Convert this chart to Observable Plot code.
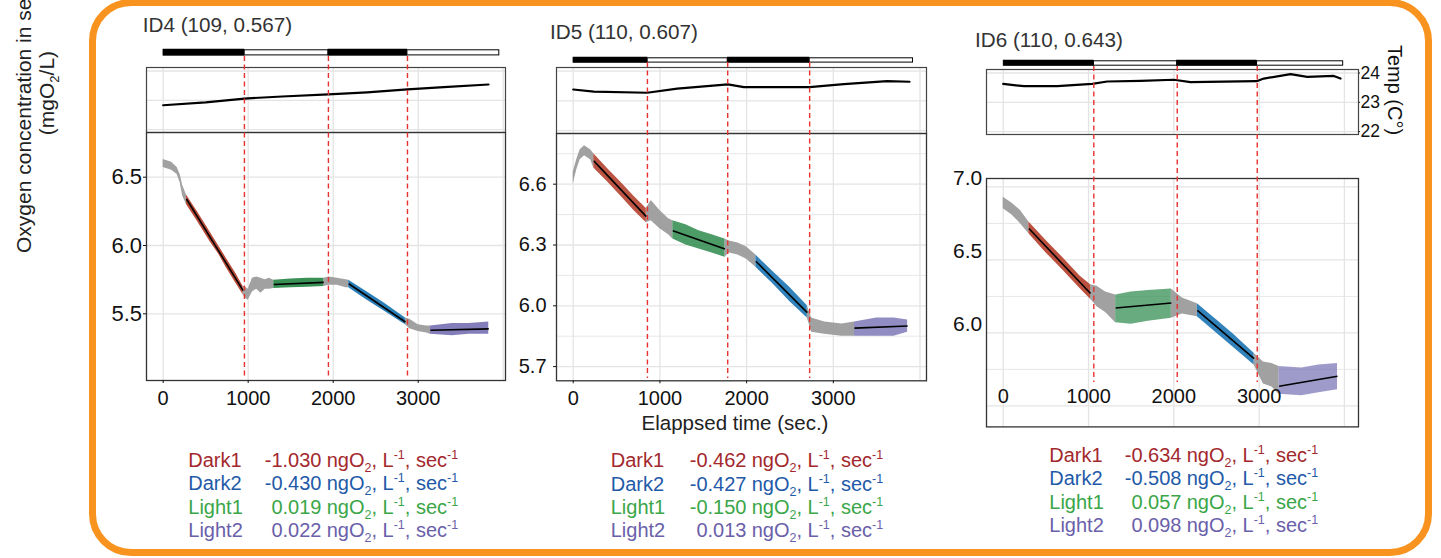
<!DOCTYPE html>
<html><head><meta charset="utf-8">
<script src="https://cdn.jsdelivr.net/npm/d3@7"></script>
<script src="https://cdn.jsdelivr.net/npm/@observablehq/plot@0.6"></script>
<style>
html,body{margin:0;padding:0;background:#fff;}
#root{position:relative;width:1441px;height:558px;overflow:hidden;background:#fff;font-family:"Liberation Sans",Arial,sans-serif;}
#root svg{overflow:visible;}
</style></head><body><div id="root"></div>
<script>
// ---------------- data ----------------
const panelTitles = ["ID4 (109, 0.567)", "ID5 (110, 0.607)", "ID6 (110, 0.643)"];
const segNames = ["Dark1", "Light1", "Dark2", "Light2"];
const legendNames = ["Dark1", "Dark2", "Light1", "Light2"];
const phaseNames = ["dark", "light", "dark", "light"];
const xGridTicks = [0, 1000, 2000, 3000, 4000];
const xLabelTicks = [0, 1000, 2000, 3000];
const tempTicks = [22, 23, 24];

// ID4
const id4Time = [0, 100, 165, 200, 230, 274, 400, 550, 650, 750, 850, 941, 960, 1000, 1050, 1100, 1150, 1200, 1250, 1301, 1500, 1700, 1889, 1950, 2050, 2150, 2183, 2400, 2600, 2850, 2900, 3000, 3100, 3144, 3400, 3600, 3830];
const id4Low  = [6.57, 6.55, 6.52, 6.46, 6.36, 6.30, 6.18, 6.03, 5.94, 5.83, 5.73, 5.64, 5.62, 5.60, 5.66, 5.68, 5.65, 5.68, 5.68, 5.685, 5.69, 5.695, 5.70, 5.71, 5.71, 5.69, 5.69, 5.60, 5.52, 5.42, 5.39, 5.37, 5.36, 5.35, 5.34, 5.35, 5.35];
const id4High = [6.63, 6.61, 6.57, 6.52, 6.44, 6.37, 6.25, 6.10, 6.00, 5.90, 5.80, 5.70, 5.70, 5.68, 5.76, 5.77, 5.76, 5.75, 5.76, 5.745, 5.755, 5.76, 5.76, 5.77, 5.76, 5.75, 5.745, 5.66, 5.58, 5.47, 5.46, 5.42, 5.41, 5.41, 5.43, 5.43, 5.44];
const id4FitStartT = [274, 1301, 2183, 3144];
const id4FitEndT = [941, 1889, 2850, 3830];
const id4FitStartO2 = [6.34, 5.715, 5.72, 5.38];
const id4FitEndO2 = [5.67, 5.73, 5.44, 5.39];
const id4PhaseStart = [0, 956, 1944, 2874];
const id4PhaseEnd = [956, 1944, 2874, 3957];
const id4TempTime = [0, 500, 956, 1400, 1944, 2400, 2874, 3300, 3827];
const id4Temp = [22.83, 22.93, 23.06, 23.13, 23.20, 23.27, 23.37, 23.45, 23.54];
const id4Rates = ["-1.030", "-0.430", "0.019", "0.022"];
const id4YTicks = [5.5, 6.0, 6.5];

// ID5
const id5Time = [0, 40, 80, 130, 200, 237, 400, 550, 700, 843, 900, 1000, 1100, 1149, 1300, 1450, 1600, 1750, 1800, 1900, 2000, 2107, 2300, 2500, 2700, 2750, 2900, 3100, 3244, 3500, 3700, 3857];
const id5Low  = [6.60, 6.67, 6.72, 6.74, 6.72, 6.68, 6.61, 6.54, 6.47, 6.41, 6.42, 6.38, 6.35, 6.33, 6.30, 6.28, 6.26, 6.24, 6.26, 6.25, 6.23, 6.19, 6.11, 6.02, 5.94, 5.87, 5.86, 5.85, 5.85, 5.85, 5.85, 5.87];
const id5High = [6.66, 6.72, 6.77, 6.79, 6.77, 6.75, 6.675, 6.61, 6.54, 6.48, 6.52, 6.47, 6.43, 6.42, 6.40, 6.37, 6.35, 6.33, 6.32, 6.31, 6.29, 6.25, 6.17, 6.09, 6.00, 5.94, 5.92, 5.91, 5.92, 5.94, 5.94, 5.93];
const id5FitStartT = [237, 1149, 2107, 3244];
const id5FitEndT = [843, 1750, 2700, 3857];
const id5FitStartO2 = [6.715, 6.37, 6.22, 5.89];
const id5FitEndO2 = [6.44, 6.28, 5.966, 5.90];
const id5PhaseStart = [0, 856, 1782, 2727];
const id5PhaseEnd = [856, 1782, 2727, 3922];
const id5TempTime = [0, 238, 853, 1200, 1784, 1968, 2726, 3122, 3622, 3879];
const id5Temp = [23.38, 23.31, 23.27, 23.41, 23.55, 23.46, 23.46, 23.56, 23.66, 23.64];
const id5Rates = ["-0.462", "-0.427", "-0.150", "0.013"];
const id5YTicks = [5.7, 6.0, 6.3, 6.6];
const id5YMinor = [5.85, 6.15, 6.45, 6.75];

// ID6
const id6Time = [0, 100, 200, 301, 500, 700, 900, 1024, 1100, 1200, 1318, 1500, 1700, 1971, 2100, 2276, 2500, 2700, 2941, 3050, 3150, 3234, 3500, 3700, 3919];
const id6Low  = [6.85, 6.81, 6.75, 6.68, 6.55, 6.43, 6.305, 6.23, 6.18, 6.14, 6.07, 6.06, 6.08, 6.10, 6.13, 6.11, 6.00, 5.90, 5.78, 5.65, 5.63, 5.58, 5.57, 5.59, 5.61];
const id6High = [6.93, 6.89, 6.84, 6.76, 6.635, 6.515, 6.39, 6.33, 6.32, 6.28, 6.26, 6.28, 6.29, 6.30, 6.24, 6.20, 6.09, 5.99, 5.86, 5.80, 5.79, 5.77, 5.76, 5.78, 5.79];
const id6FitStartT = [301, 1318, 2276, 3234];
const id6FitEndT = [1024, 1971, 2941, 3919];
const id6FitStartO2 = [6.715, 6.171, 6.155, 5.635];
const id6FitEndO2 = [6.27, 6.205, 5.824, 5.703];
const id6PhaseStart = [0, 1062, 2040, 2978];
const id6PhaseEnd = [1062, 2040, 2978, 3990];
const id6TempTime = [0, 242, 633, 1043, 1219, 1610, 2000, 2196, 2970, 3055, 3368, 3564, 3876, 3954];
const id6Temp = [23.63, 23.55, 23.55, 23.63, 23.71, 23.73, 23.77, 23.69, 23.72, 23.81, 23.96, 23.87, 23.90, 23.81];
const id6Rates = ["-0.634", "-0.508", "0.057", "0.098"];
const id6YTicks = [6.0, 6.5, 7.0];
const id6YGrid = [5.5, 6.0, 6.5, 7.0];
const id6YMinor = [5.75, 6.25, 6.75];

// ---------------- styles ----------------
const FONT = '"Liberation Sans", Arial, sans-serif';
const GRID = "#e4e4e4";
const GRAY = "#999999";
const DASH = "#e8312f";
const pointColors = {Dark1: "#b5412f", Light1: "#2e8a4c", Dark2: "#1f77b4", Light2: "#7570b3"};
const textColors = {Dark1: "#a3282d", Dark2: "#1f5aa8", Light1: "#3aa648", Light2: "#6a60aa"};
const TEMP_DOMAIN = [21.9, 24.12];

const panels = [
  {title: panelTitles[0], time: id4Time, low: id4Low, high: id4High,
   fitStartT: id4FitStartT, fitEndT: id4FitEndT, fitStartO2: id4FitStartO2, fitEndO2: id4FitEndO2,
   phaseStart: id4PhaseStart, phaseEnd: id4PhaseEnd, tempTime: id4TempTime, temp: id4Temp, rates: id4Rates,
   yTicks: id4YTicks, yGrid: id4YTicks, yMinor: [],
   L: {left: 146, width: 359, xDomain: [-196, 4027], barTop: 49.3, barH: 6.4, tempTop: 67, tempH: 65,
       mainTop: 132, mainH: 248, yDomain: [5.012, 6.827], dashTop: 55.7, dashBottom: 377,
       yTickSize: 3, yTickPadding: 1.5, yLabelDy: 0, yFont: 22, xTickSize: 3, xTickPadding: 7, xLabelDy: 0,
       titleX: 142.7, titleY: 31.7, nameX: 188.3, valueRight: 321.5, unitX: 326.7, rowY: [466.7, 490, 513.6, 537],
       segOpacity: [0.95, 0.95, 0.95, 0.9], tempAxis: false}},
  {title: panelTitles[1], time: id5Time, low: id5Low, high: id5High,
   fitStartT: id5FitStartT, fitEndT: id5FitEndT, fitStartO2: id5FitStartO2, fitEndO2: id5FitEndO2,
   phaseStart: id5PhaseStart, phaseEnd: id5PhaseEnd, tempTime: id5TempTime, temp: id5Temp, rates: id5Rates,
   yTicks: id5YTicks, yGrid: id5YTicks, yMinor: id5YMinor,
   L: {left: 556, width: 370, xDomain: [-193, 4075], barTop: 56.7, barH: 5.6, tempTop: 66.7, tempH: 66,
       mainTop: 132.7, mainH: 247.3, yDomain: [5.63, 6.85], dashTop: 62.3, dashBottom: 378.3,
       yTickSize: 3, yTickPadding: 7, yLabelDy: 0, yFont: 20, xTickSize: 3, xTickPadding: 7, xLabelDy: 0,
       titleX: 550, titleY: 39.3, nameX: 610.7, valueRight: 746.5, unitX: 751.7, rowY: [467.3, 490.7, 514, 537.3],
       segOpacity: [0.9, 0.85, 0.92, 0.8], tempAxis: false}},
  {title: panelTitles[2], time: id6Time, low: id6Low, high: id6High,
   fitStartT: id6FitStartT, fitEndT: id6FitEndT, fitStartO2: id6FitStartO2, fitEndO2: id6FitEndO2,
   phaseStart: id6PhaseStart, phaseEnd: id6PhaseEnd, tempTime: id6TempTime, temp: id6Temp, rates: id6Rates,
   yTicks: id6YTicks, yGrid: id6YGrid, yMinor: id6YMinor,
   L: {left: 986, width: 372, xDomain: [-196, 4165], barTop: 60, barH: 5.7, tempTop: 69, tempH: 65,
       mainTop: 178.3, mainH: 248.4, yDomain: [5.356, 7.058], dashTop: 65.7, dashBottom: 381.7,
       yTickSize: 0, yTickPadding: 4.3, yLabelDy: -8.4, yFont: 21, xTickSize: 0, xTickPadding: 9, xLabelDy: -47.4,
       titleX: 975, titleY: 47.3, nameX: 1049.3, valueRight: 1181.5, unitX: 1186.7, rowY: [461.7, 485, 508.6, 531.7],
       segOpacity: [0.92, 0.72, 0.92, 0.7], tempAxis: true}}
];

const root = document.getElementById("root");
function place(node, left, top, z) {
  node.style.position = "absolute";
  node.style.left = left + "px";
  node.style.top = top + "px";
  node.style.zIndex = z || 1;
  root.appendChild(node);
  return node;
}
const ML = 60, MR = 45;
const baseStyle = {background: "transparent", overflow: "visible", fontFamily: FONT, fontSize: "20px", color: "#111"};

function tempPlot(p) {
  const L = p.L;
  const rows = p.tempTime.map((t, i) => ({t, v: p.temp[i]}));
  const marks = [
    Plot.gridX(xGridTicks, {stroke: GRID, strokeOpacity: 1, strokeWidth: 1.3}),
    Plot.gridY(tempTicks, {stroke: GRID, strokeOpacity: 1, strokeWidth: 1.3}),
    Plot.line(rows, {x: "t", y: "v", stroke: "#000", strokeWidth: 2.2}),
    Plot.frame({stroke: "#444", strokeWidth: 1.2})
  ];
  if (L.tempAxis) marks.push(Plot.axisY(tempTicks, {anchor: "right", tickSize: 1, tickPadding: 1, fontSize: 17.5, label: null}));
  return Plot.plot({
    width: L.width + ML + MR, height: L.tempH, marginLeft: ML, marginRight: MR, marginTop: 0, marginBottom: 0,
    x: {domain: L.xDomain, axis: null, label: null}, y: {domain: TEMP_DOMAIN, axis: null, label: null},
    style: baseStyle, marks
  });
}

function mainPlot(p) {
  const L = p.L;
  const rows = p.time.map((t, i) => ({t, lo: p.low[i], hi: p.high[i]}));
  const segs = segNames.map((name, k) => ({name, t1: p.fitStartT[k], t2: p.fitEndT[k], o1: p.fitStartO2[k], o2: p.fitEndO2[k]}));
  const cuts = [p.time[0]];
  segs.forEach(s => { cuts.push(s.t1); cuts.push(s.t2); });
  cuts.push(p.time[p.time.length - 1]);
  const grayMarks = [];
  for (let i = 0; i < cuts.length; i += 2) {
    const a = cuts[i], b = cuts[i + 1];
    const part = rows.filter(r => r.t >= a && r.t <= b);
    if (part.length > 1) grayMarks.push(Plot.areaY(part, {x: "t", y1: "lo", y2: "hi", fill: GRAY, fillOpacity: 0.92}));
  }
  const bandMarks = segs.map((s, k) => Plot.areaY(rows.filter(r => r.t >= s.t1 && r.t <= s.t2),
    {x: "t", y1: "lo", y2: "hi", fill: pointColors[s.name], fillOpacity: L.segOpacity[k]}));
  return Plot.plot({
    width: L.width + ML + MR, height: L.mainH + 60, marginLeft: ML, marginRight: MR, marginTop: 0, marginBottom: 60,
    x: {domain: L.xDomain, axis: null, label: null}, y: {domain: L.yDomain, axis: null, label: null},
    style: baseStyle,
    marks: [
      Plot.gridX(xGridTicks, {stroke: GRID, strokeOpacity: 1, strokeWidth: 1.3}),
      Plot.gridY(p.yMinor, {stroke: GRID, strokeOpacity: 1, strokeWidth: 0.9}),
      Plot.gridY(p.yGrid, {stroke: GRID, strokeOpacity: 1, strokeWidth: 1.3}),
      ...grayMarks,
      ...bandMarks,
      Plot.link(segs, {x1: "t1", y1: "o1", x2: "t2", y2: "o2", stroke: "#000", strokeWidth: 1.6}),
      Plot.frame({stroke: "#333", strokeWidth: 1.3}),
      Plot.axisY(p.yTicks, {tickSize: L.yTickSize, tickPadding: L.yTickPadding, dy: L.yLabelDy, tickFormat: d3.format(".1f"), fontSize: L.yFont, label: null}),
      Plot.axisX(xLabelTicks, {tickSize: L.xTickSize, tickPadding: L.xTickPadding, dy: L.xLabelDy, tickFormat: d => String(d), fontSize: 20, label: null})
    ]
  });
}

function barPlot(p) {
  const L = p.L;
  const rows = phaseNames.map((ph, k) => ({ph, t1: p.phaseStart[k], t2: p.phaseEnd[k]}));
  return Plot.plot({
    width: L.width + ML + MR, height: L.barH, marginLeft: ML, marginRight: MR, marginTop: 0, marginBottom: 0,
    x: {domain: L.xDomain, axis: null}, style: baseStyle,
    marks: [
      Plot.rect(rows.filter(r => r.ph === "light"), {x1: "t1", x2: "t2", fill: "#fff", stroke: "#000", strokeWidth: 1, insetTop: 0.8, insetBottom: 0.5}),
      Plot.rect(rows.filter(r => r.ph === "dark"), {x1: "t1", x2: "t2", fill: "#000", stroke: "#000", strokeWidth: 0.5})
    ]
  });
}

function dashPlot(p) {
  const L = p.L;
  return Plot.plot({
    width: L.width + ML + MR, height: L.dashBottom - L.dashTop, marginLeft: ML, marginRight: MR, marginTop: 0, marginBottom: 0,
    x: {domain: L.xDomain, axis: null}, style: baseStyle,
    marks: [Plot.ruleX(p.phaseStart.slice(1), {stroke: DASH, strokeWidth: 1.4, strokeDasharray: "5,3.5"})]
  });
}

// orange frame
const frame = document.createElement("div");
frame.style.cssText = "width:1343px;height:557px;box-sizing:border-box;border:7px solid #F7931E;border-radius:42px;";
place(frame, 89, -1, 0);

panels.forEach(p => {
  const L = p.L;
  place(tempPlot(p), L.left - ML, L.tempTop, 1);
  place(mainPlot(p), L.left - ML, L.mainTop, 2);
  place(barPlot(p), L.left - ML, L.barTop, 3);
  const d = place(dashPlot(p), L.left - ML, L.dashTop, 4);
  d.style.pointerEvents = "none";
});

// text overlay: titles, axis titles, rate legends
let s = `<svg xmlns="http://www.w3.org/2000/svg" width="1441" height="558" style="position:absolute;left:0;top:0;z-index:6;pointer-events:none;font-family:${FONT.replace(/"/g, "'")}">`;
s += `<text transform="translate(31,253) rotate(-90)" font-size="21" fill="#222">Oxygen concentration in seawater</text>`;
s += `<text transform="translate(54,93) rotate(-90)" text-anchor="middle" font-size="21" fill="#222">(mgO<tspan dy="5" font-size="13">2</tspan><tspan dy="-5">/L)</tspan></text>`;
s += `<text x="735" y="430" text-anchor="middle" font-size="20.5" fill="#222">Elappsed time (sec.)</text>`;
s += `<text transform="translate(1388,90) rotate(90)" text-anchor="middle" font-size="20" fill="#111">Temp (C°)</text>`;
panels.forEach(p => {
  const L = p.L;
  s += `<text x="${L.titleX}" y="${L.titleY}" font-size="20.7" fill="#333">${p.title}</text>`;
  legendNames.forEach((name, k) => {
    const c = textColors[name], y = L.rowY[k];
    s += `<text x="${L.nameX}" y="${y}" font-size="20" fill="${c}">${name}</text>`;
    s += `<text x="${L.valueRight}" y="${y}" font-size="20" fill="${c}" text-anchor="end">${p.rates[k]}</text>`;
    s += `<text x="${L.unitX}" y="${y}" font-size="20" fill="${c}">ngO<tspan dy="5" font-size="12.5">2</tspan><tspan dy="-5">, L</tspan><tspan dy="-8" font-size="12.5">-1</tspan><tspan dy="8">, sec</tspan><tspan dy="-8" font-size="12.5">-1</tspan></text>`;
  });
});
s += `</svg>`;
const holder = document.createElement("div");
holder.innerHTML = s;
place(holder.firstChild, 0, 0, 6);
</script>
</body></html>
